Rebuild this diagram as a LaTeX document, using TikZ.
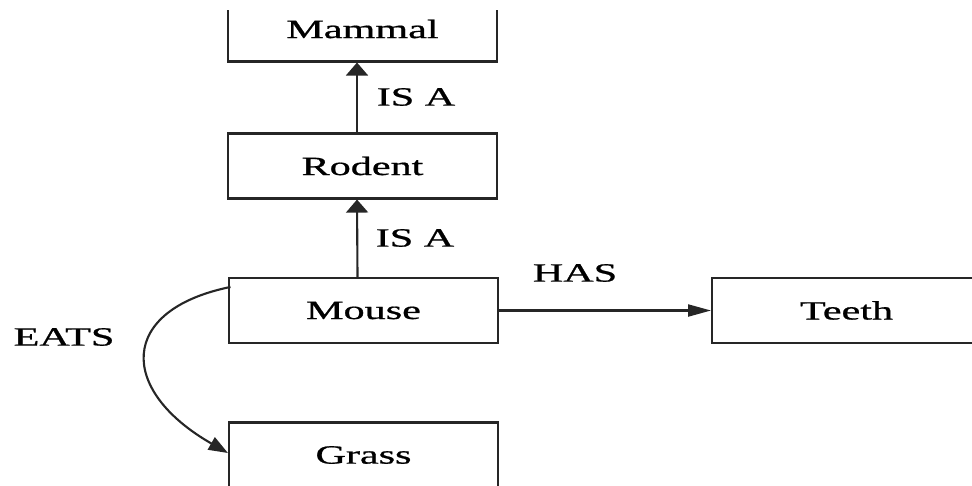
\documentclass[tikz,border=0pt]{standalone}
\usepackage{fontspec}
\setmainfont{Liberation Serif}
\newfontfamily\chartfont[FakeBold=0.7]{Liberation Serif}
\usetikzlibrary{arrows.meta}
% wide text: the whole chart is set with horizontally stretched lettering
\newcommand\widetxt[1]{\scalebox{1.6}[1]{#1}}
\begin{document}
\begin{tikzpicture}[x=0.02cm,y=-0.02cm,
  every node/.style={font=\chartfont\fontsize{15}{18}\selectfont},
  concept/.style={draw=black!85,line width=1.2pt,minimum width=5.38cm,
    minimum height=1.3cm,inner sep=0pt},
  rel/.style={inner sep=0pt},
  link/.style={draw=black!85,line width=1.2pt},
  uptip/.style={-{Triangle[length=7.4pt,width=12.5pt]}},
  righttip/.style={-{Triangle[length=13pt,width=6.8pt]}},
  curvetip/.style={-{Triangle[length=11pt,width=8pt]}}]
\useasboundingbox (0,0) rectangle (972,485);
\begin{scope}
  \clip (0,10) rectangle (972,485);
  % concept boxes
  \node[concept] (mammal) at (362.5,29)    {\widetxt{Mammal}};
  \node[concept] (rodent) at (362.5,166)   {\widetxt{Rodent}};
  \node[concept] (mouse)  at (363.5,310.5) {\widetxt{Mouse}};
  \node[concept] (teeth)  at (846.5,310.5) {\widetxt{Teeth}};
  \node[concept] (grass)  at (363.5,455)   {\widetxt{Grass}};
  % relations
  \draw[link,uptip] ([xshift=-0.12cm]mouse.north) -- ([xshift=-0.11cm]rodent.south);
  \draw[link,uptip] ([xshift=-0.11cm]rodent.north) -- ([xshift=-0.11cm]mammal.south);
  \draw[link,righttip] (mouse.east) -- (teeth.west);
  \draw[link,curvetip] ([shift={(0.05cm,-0.2cm)}]mouse.north west)
    .. controls (118,310) and (118,390) .. ([yshift=0.04cm]grass.west);
\end{scope}
% relation labels
\node[rel] (isa1) at (416,97)  {\widetxt{IS A}};
\node[rel] (isa2) at (415,238) {\widetxt{IS A}};
\node[rel] (has)  at (575,273) {\widetxt{HAS}};
\node[rel] (eats) at (64,337)  {\widetxt{EATS}};
\end{tikzpicture}
\end{document}
